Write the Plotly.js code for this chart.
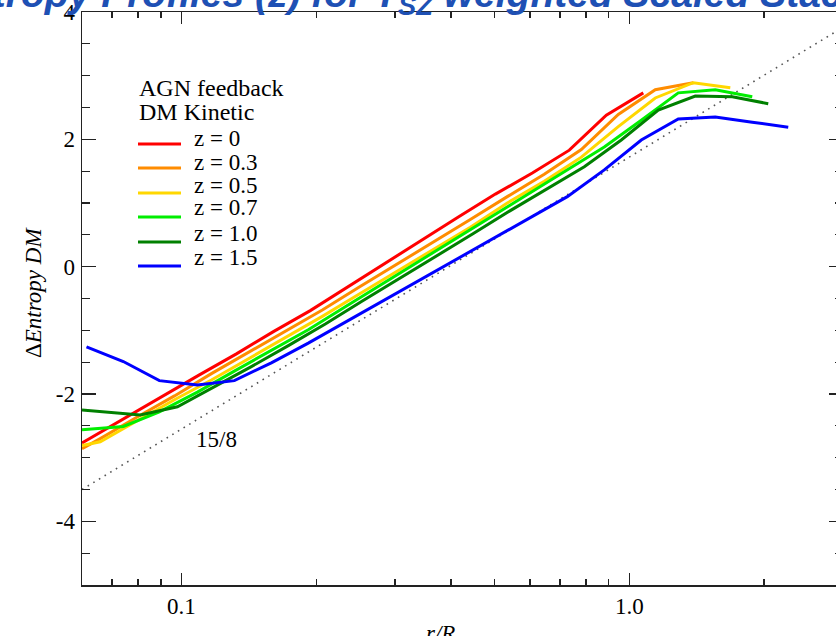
<!DOCTYPE html>
<html>
<head>
<meta charset="utf-8">
<script src="https://cdn.plot.ly/plotly-3.0.1.min.js"></script>
<style>
html,body{margin:0;padding:0;overflow:hidden;background:#fff;}
#chart{width:860px;height:636px;}
</style>
</head>
<body>
<div id="chart"></div>
<script>
// ---- data ----
const xTicks = [0.1, 1];
const xTickText = ['0.1', '1.0'];
const yTicks = [-4, -2, 0, 2, 4];
const yTickText = ['-4', '-2', '0', '2', '4'];

const labels = ['z = 0', 'z = 0.3', 'z = 0.5', 'z = 0.7', 'z = 1.0', 'z = 1.5'];

const xZ00 = [0.06, 0.0750, 0.0902, 0.1097, 0.1327, 0.1605, 0.1940, 0.2347, 0.2838, 0.3433, 0.4153, 0.5024, 0.6075, 0.7347, 0.8885, 1.0747];
const yZ00 = [-2.77, -2.37, -2.04, -1.70, -1.37, -1.02, -0.69, -0.32, 0.04, 0.42, 0.78, 1.14, 1.47, 1.83, 2.38, 2.73];

const xZ03 = [0.06, 0.0659, 0.0797, 0.0965, 0.1167, 0.1411, 0.1707, 0.2064, 0.2496, 0.3019, 0.3651, 0.4417, 0.5341, 0.6459, 0.7815, 0.9450, 1.1429, 1.3898];
const yZ03 = [-2.86, -2.70, -2.36, -2.03, -1.68, -1.35, -1.02, -0.68, -0.32, 0.03, 0.39, 0.74, 1.10, 1.45, 1.84, 2.39, 2.78, 2.89];

const xZ05 = [0.06, 0.0659, 0.0797, 0.0965, 0.1167, 0.1411, 0.1707, 0.2064, 0.2496, 0.3019, 0.3651, 0.4417, 0.5341, 0.6459, 0.7815, 0.9450, 1.1429, 1.3898, 1.6807];
const yZ05 = [-2.81, -2.75, -2.42, -2.09, -1.78, -1.45, -1.12, -0.78, -0.43, -0.08, 0.27, 0.62, 1.00, 1.34, 1.72, 2.20, 2.65, 2.89, 2.81];

const xZ07 = [0.06, 0.0742, 0.0893, 0.1086, 0.1313, 0.1588, 0.1920, 0.2323, 0.2810, 0.3398, 0.4111, 0.4972, 0.6013, 0.7272, 0.8794, 1.0636, 1.2863, 1.5558, 1.8817];
const yZ07 = [-2.56, -2.51, -2.28, -1.97, -1.64, -1.32, -0.99, -0.63, -0.27, 0.08, 0.44, 0.80, 1.16, 1.52, 1.88, 2.30, 2.73, 2.78, 2.67];

const xZ10 = [0.06, 0.0670, 0.0810, 0.0980, 0.1185, 0.1433, 0.1733, 0.2096, 0.2535, 0.3066, 0.3708, 0.4486, 0.5424, 0.6560, 0.7936, 0.9597, 1.1607, 1.4040, 1.6982, 2.0429];
const yZ10 = [-2.25, -2.28, -2.33, -2.20, -1.89, -1.57, -1.24, -0.90, -0.54, -0.19, 0.17, 0.52, 0.88, 1.22, 1.57, 1.99, 2.46, 2.68, 2.67, 2.56];

const xZ15 = [0.0614, 0.0742, 0.0893, 0.1086, 0.1313, 0.1588, 0.1920, 0.2323, 0.2810, 0.3398, 0.4111, 0.4972, 0.6013, 0.7272, 0.8794, 1.0636, 1.2863, 1.5558, 1.8817, 2.2640];
const yZ15 = [-1.26, -1.49, -1.79, -1.86, -1.79, -1.51, -1.20, -0.87, -0.55, -0.22, 0.11, 0.44, 0.77, 1.10, 1.52, 1.99, 2.32, 2.35, 2.27, 2.19];

const xRef = [0.06, 3.0];
const yRef = [-3.50, 3.76];
const refLabel = '15/8';
const refLabelX = 0.12;
const refLabelY = -2.72;

const colors = ['#ff0000', '#ff8c00', '#ffd700', '#00ee00', '#008000', '#0000ff'];

// ---- layout helpers (pixel -> paper) ----
const L = 82, R = 843, T = 12, B = 585;
const px = p => (p - L) / (R - L);
const py = p => (B - p) / (B - T);
const serif = 'Liberation Serif, Times New Roman, serif';

const xs = [xZ00, xZ03, xZ05, xZ07, xZ10, xZ15];
const ys = [yZ00, yZ03, yZ05, yZ07, yZ10, yZ15];

const traces = [{
  x: xRef, y: yRef, mode: 'lines', showlegend: false,
  line: {color: '#555555', width: 1.6, dash: '1.6px,5px'}, hoverinfo: 'skip'
}];
for (let i = 0; i < xs.length; i++) {
  traces.push({x: xs[i], y: ys[i], mode: 'lines', name: labels[i], showlegend: false,
    line: {color: colors[i], width: 3}});
}

const legendLineY = [144, 168, 193, 217, 242, 266];
const shapes = legendLineY.map((yy, i) => ({
  type: 'line', xref: 'paper', yref: 'paper',
  x0: px(138), x1: px(181), y0: py(yy), y1: py(yy),
  line: {color: colors[i], width: 3}
}));

const annotations = [
  {text: '<b><i>Entropy Profiles (z) for T<sub>SZ</sub> weighted Scaled Stacks</i></b>',
   xref: 'paper', yref: 'paper', x: px(-59), y: py(-4), xanchor: 'left', yanchor: 'middle',
   showarrow: false, font: {family: 'Liberation Sans, Arial, sans-serif', size: 39, color: '#1e50b4'}},
  {text: 'Δ<i>Entropy DM</i>', xref: 'paper', yref: 'paper', x: px(33), y: py(292),
   xanchor: 'center', yanchor: 'middle', textangle: -90, showarrow: false,
   font: {family: serif, size: 23, color: '#000'}},
  {text: '<i>r/R</i>', xref: 'paper', yref: 'paper', x: px(440), y: py(633),
   xanchor: 'center', yanchor: 'middle', showarrow: false,
   font: {family: serif, size: 23, color: '#000'}},
  {text: 'AGN feedback', xref: 'paper', yref: 'paper', x: px(137), y: py(88),
   xanchor: 'left', yanchor: 'middle', showarrow: false, font: {family: serif, size: 24, color: '#000'}},
  {text: 'DM Kinetic', xref: 'paper', yref: 'paper', x: px(137), y: py(112),
   xanchor: 'left', yanchor: 'middle', showarrow: false, font: {family: serif, size: 24, color: '#000'}},
  {text: refLabel, xref: 'x', yref: 'y', x: Math.log10(refLabelX), y: refLabelY,
   xanchor: 'center', yanchor: 'middle', showarrow: false, font: {family: serif, size: 23, color: '#000'}}
];
const legendTextY = [138, 162, 185, 208, 233, 257];
labels.forEach((t, i) => annotations.push({
  text: t, xref: 'paper', yref: 'paper', x: px(192), y: py(legendTextY[i]),
  xanchor: 'left', yanchor: 'middle', showarrow: false, font: {family: serif, size: 23, color: '#000'}
}));

const layout = {
  width: 860, height: 636,
  margin: {l: L, r: 860 - R, t: T, b: 636 - B, pad: 0},
  paper_bgcolor: '#fff', plot_bgcolor: '#fff',
  showlegend: false,
  font: {family: serif, size: 23, color: '#000'},
  xaxis: {
    type: 'log', range: [Math.log10(0.06), Math.log10(3.0)],
    tickmode: 'array', tickvals: xTicks, ticktext: xTickText,
    ticks: 'inside', ticklen: 12, tickwidth: 1.3, tickcolor: '#222',
    showline: true, linecolor: '#222', linewidth: 1.5, mirror: 'allticks',
    showgrid: false, zeroline: false, ticklabelstandoff: 0,
    minor: {tickmode: 'array', tickvals: [0.07, 0.08, 0.09, 0.2, 0.3, 0.4, 0.5, 0.6, 0.7, 0.8, 0.9, 2, 3],
            ticks: 'inside', ticklen: 6, tickwidth: 1.3, tickcolor: '#222', showgrid: false}
  },
  yaxis: {
    range: [-5, 4], tickmode: 'array', tickvals: yTicks, ticktext: yTickText,
    ticks: 'inside', ticklen: 14, tickwidth: 1.3, tickcolor: '#222',
    showline: true, linecolor: '#222', linewidth: 1.5, mirror: 'allticks',
    showgrid: false, zeroline: false, ticklabelstandoff: 1,
    minor: {dtick: 0.5, ticks: 'inside', ticklen: 8, tickwidth: 1.3, tickcolor: '#222', showgrid: false}
  },
  shapes: shapes,
  annotations: annotations
};

Plotly.newPlot('chart', traces, layout, {staticPlot: true, displayModeBar: false});
</script>
</body>
</html>
